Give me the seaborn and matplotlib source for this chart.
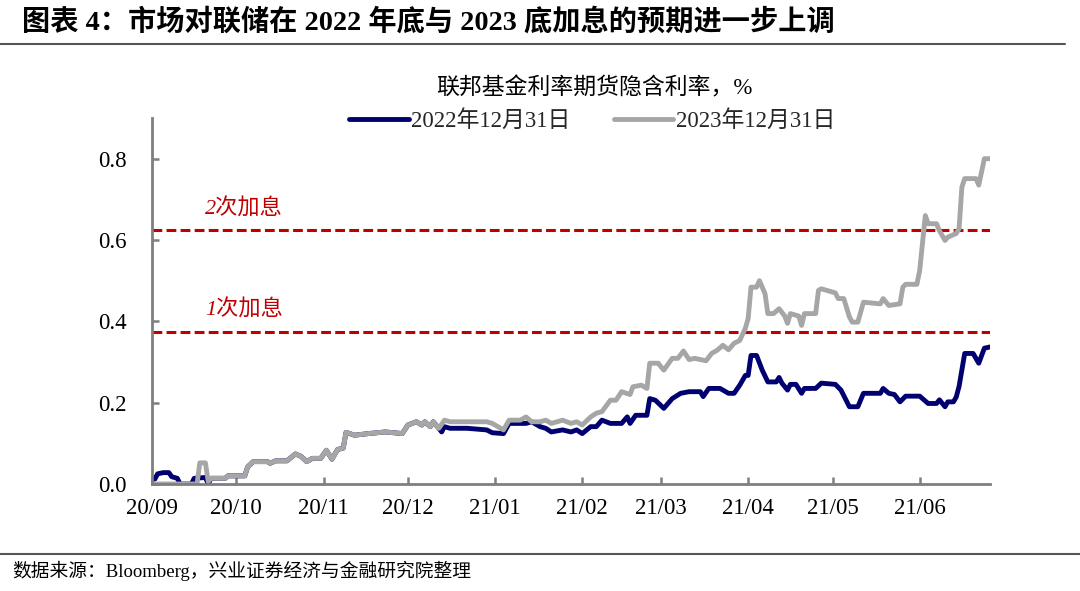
import matplotlib
matplotlib.use("Agg")
import numpy as np
import pandas as pd
import seaborn as sns
import matplotlib.pyplot as plt
from matplotlib.lines import Line2D

# ---------------- data ----------------
series_names = ["2022年12月31日", "2023年12月31日"]

gray_dates = [
    "2020-09-01", "2020-09-17", "2020-09-18", "2020-09-20", "2020-09-21", "2020-09-22", "2020-09-27",
    "2020-09-28", "2020-10-04", "2020-10-05", "2020-10-07", "2020-10-12", "2020-10-13", "2020-10-15",
    "2020-10-19", "2020-10-22", "2020-10-24", "2020-10-26", "2020-10-28", "2020-10-31", "2020-11-02",
    "2020-11-04", "2020-11-06", "2020-11-08", "2020-11-09", "2020-11-12", "2020-11-17", "2020-11-23",
    "2020-11-29", "2020-12-01", "2020-12-04", "2020-12-06", "2020-12-07", "2020-12-09", "2020-12-10",
    "2020-12-12", "2020-12-14", "2020-12-16", "2020-12-29", "2020-12-31", "2021-01-04", "2021-01-06",
    "2021-01-10", "2021-01-12", "2021-01-14", "2021-01-17", "2021-01-19", "2021-01-21", "2021-01-25",
    "2021-01-28", "2021-01-30", "2021-02-01", "2021-02-04", "2021-02-06", "2021-02-08", "2021-02-11",
    "2021-02-13", "2021-02-15", "2021-02-18", "2021-02-19", "2021-02-22", "2021-02-24", "2021-02-25",
    "2021-02-28", "2021-03-02", "2021-03-05", "2021-03-07", "2021-03-09", "2021-03-11", "2021-03-13",
    "2021-03-15", "2021-03-17", "2021-03-19", "2021-03-21", "2021-03-23", "2021-03-25", "2021-03-27",
    "2021-03-29", "2021-03-31", "2021-04-01", "2021-04-02", "2021-04-04", "2021-04-05", "2021-04-07",
    "2021-04-08", "2021-04-10", "2021-04-12", "2021-04-14", "2021-04-15", "2021-04-16", "2021-04-19",
    "2021-04-20", "2021-04-21", "2021-04-25", "2021-04-26", "2021-04-27", "2021-05-02", "2021-05-03",
    "2021-05-05", "2021-05-07", "2021-05-08", "2021-05-10", "2021-05-12", "2021-05-18", "2021-05-19",
    "2021-05-21", "2021-05-25", "2021-05-26", "2021-05-27", "2021-05-31", "2021-06-01", "2021-06-03",
    "2021-06-04", "2021-06-07", "2021-06-08", "2021-06-10", "2021-06-11", "2021-06-14", "2021-06-15",
    "2021-06-16", "2021-06-17", "2021-06-21", "2021-06-22", "2021-06-24", "2021-06-26",
]
gray_values = [
    0.0, 0.0, 0.052, 0.052, 0.006, 0.014, 0.014,
    0.02, 0.02, 0.042, 0.055, 0.055, 0.051, 0.057,
    0.057, 0.074, 0.068, 0.055, 0.063, 0.063, 0.083,
    0.061, 0.085, 0.088, 0.127, 0.12, 0.124, 0.128,
    0.124, 0.145, 0.153, 0.145, 0.153, 0.141, 0.153,
    0.137, 0.157, 0.153, 0.153, 0.149, 0.133, 0.157,
    0.157, 0.165, 0.153, 0.153, 0.157, 0.149, 0.157,
    0.149, 0.153, 0.145, 0.165, 0.174, 0.178, 0.206,
    0.206, 0.227, 0.22, 0.239, 0.243, 0.235, 0.297,
    0.297, 0.28, 0.309, 0.309, 0.327, 0.306, 0.309,
    0.306, 0.303, 0.321, 0.329, 0.341, 0.33, 0.346,
    0.353, 0.383, 0.407, 0.484, 0.484, 0.5, 0.468,
    0.419, 0.419, 0.431, 0.413, 0.395, 0.419, 0.413,
    0.39, 0.419, 0.419, 0.476, 0.48, 0.47, 0.456,
    0.456, 0.411, 0.398, 0.398, 0.447, 0.443, 0.456,
    0.439, 0.443, 0.484, 0.491, 0.491, 0.525, 0.66,
    0.64, 0.64, 0.623, 0.599, 0.607, 0.616, 0.628,
    0.73, 0.751, 0.751, 0.735, 0.8, 0.8,
]

navy_early_dates = ["2020-09-01", "2020-09-02", "2020-09-03", "2020-09-05", "2020-09-07", "2020-09-08",
                    "2020-09-10", "2020-09-11", "2020-09-15", "2020-09-16", "2020-09-20", "2020-09-21"]
navy_early_values = [0.012, 0.012, 0.025, 0.028, 0.028, 0.018,
                     0.014, 0.0, 0.0, 0.014, 0.016, 0.0]

navy_late_dates = [
    "2020-12-13", "2020-12-14", "2020-12-16", "2020-12-22", "2020-12-29", "2020-12-31", "2021-01-04",
    "2021-01-06", "2021-01-12", "2021-01-14", "2021-01-17", "2021-01-19", "2021-01-21", "2021-01-25",
    "2021-01-28", "2021-01-30", "2021-02-01", "2021-02-04", "2021-02-06", "2021-02-08", "2021-02-11",
    "2021-02-15", "2021-02-17", "2021-02-18", "2021-02-20", "2021-02-24", "2021-02-25", "2021-02-27",
    "2021-03-02", "2021-03-05", "2021-03-08", "2021-03-11", "2021-03-15", "2021-03-16", "2021-03-18",
    "2021-03-22", "2021-03-25", "2021-03-27", "2021-03-29", "2021-03-31", "2021-04-01", "2021-04-02",
    "2021-04-04", "2021-04-06", "2021-04-08", "2021-04-11", "2021-04-12", "2021-04-13", "2021-04-15",
    "2021-04-16", "2021-04-18", "2021-04-20", "2021-04-21", "2021-04-25", "2021-04-27", "2021-05-02",
    "2021-05-04", "2021-05-07", "2021-05-10", "2021-05-12", "2021-05-18", "2021-05-19", "2021-05-21",
    "2021-05-23", "2021-05-25", "2021-05-27", "2021-06-01", "2021-06-04", "2021-06-07", "2021-06-08",
    "2021-06-10", "2021-06-11", "2021-06-13", "2021-06-14", "2021-06-15", "2021-06-17", "2021-06-20",
    "2021-06-22", "2021-06-24", "2021-06-26",
]
navy_late_values = [
    0.128, 0.141, 0.137, 0.137, 0.133, 0.126, 0.124,
    0.149, 0.149, 0.153, 0.141, 0.137, 0.128, 0.133,
    0.128, 0.133, 0.124, 0.141, 0.141, 0.157, 0.149,
    0.149, 0.165, 0.149, 0.169, 0.169, 0.21, 0.206,
    0.186, 0.21, 0.223, 0.227, 0.227, 0.215, 0.235,
    0.235, 0.223, 0.223, 0.243, 0.267, 0.267, 0.316,
    0.316, 0.28, 0.251, 0.251, 0.262, 0.248, 0.231,
    0.245, 0.245, 0.223, 0.235, 0.235, 0.248, 0.245,
    0.231, 0.19, 0.19, 0.223, 0.223, 0.235, 0.223,
    0.22, 0.202, 0.216, 0.216, 0.198, 0.198, 0.207,
    0.19, 0.202, 0.202, 0.214, 0.24, 0.321, 0.321,
    0.297, 0.334, 0.337,
]

hike_levels = [0.375, 0.625]
hike_labels = ["1次加息", "2次加息"]
tick_dates = ["2020-09-01", "2020-10-01", "2020-11-01", "2020-12-01", "2021-01-01",
              "2021-02-01", "2021-03-01", "2021-04-01", "2021-05-01", "2021-06-01"]
tick_labels = ["20/09", "20/10", "20/11", "20/12", "21/01",
               "21/02", "21/03", "21/04", "21/05", "21/06"]

# ---------------- frame ----------------
gray_df = pd.DataFrame({"date": pd.to_datetime(gray_dates), "value": gray_values})
# between late Sep and mid Dec the 2022 series runs underneath the 2023 series
mid = gray_df[(gray_df["date"] > pd.Timestamp(navy_early_dates[-1])) &
              (gray_df["date"] < pd.Timestamp(navy_late_dates[0]))]
navy_df = pd.concat([
    pd.DataFrame({"date": pd.to_datetime(navy_early_dates), "value": navy_early_values}),
    mid,
    pd.DataFrame({"date": pd.to_datetime(navy_late_dates), "value": navy_late_values}),
], ignore_index=True)
navy_df["series"] = series_names[0]
gray_df["series"] = series_names[1]
df = pd.concat([navy_df, gray_df], ignore_index=True)

# ---------------- style ----------------
sns.set_theme(style="white")
plt.rcParams["font.family"] = ["Liberation Serif", "Noto Sans CJK SC"]
plt.rcParams["axes.unicode_minus"] = False

NAVY = "#000070"
GRAY = "#A6A6A6"
RED = "#C00000"
SPINE = "#7F7F7F"

fig = plt.figure(figsize=(10.8, 5.91), dpi=100)
ax = fig.add_axes([152 / 1080, 1 - 484 / 591, (990 - 152) / 1080, (484 - 118) / 591])

sns.lineplot(data=df, x="date", y="value", hue="series", hue_order=series_names,
             palette={series_names[0]: NAVY, series_names[1]: GRAY},
             linewidth=3.5, ax=ax, legend=False, estimator=None, sort=True)

for lvl in hike_levels:
    ax.axhline(lvl, color=RED, lw=2.2, ls=(0, (3.2, 1.4)), zorder=1)
ax.text(pd.Timestamp("2020-09-20"), 0.427, hike_labels[0], color=RED, fontsize=16,
        style="italic", va="center", ha="left")
ax.text(pd.Timestamp("2020-09-20"), 0.677, hike_labels[1], color=RED, fontsize=16,
        style="italic", va="center", ha="left")

ax.set_xlim(pd.Timestamp("2020-09-01"), pd.Timestamp("2021-06-26"))
ax.set_ylim(0, 0.9)
ax.set_yticks([0.0, 0.2, 0.4, 0.6, 0.8])
ax.set_yticklabels([f"{v:.1f}" for v in [0.0, 0.2, 0.4, 0.6, 0.8]])
ax.set_xticks(pd.to_datetime(tick_dates))
ax.set_xticklabels(tick_labels)
ax.set_xlabel("")
ax.set_ylabel("")

for s in ["top", "right"]:
    ax.spines[s].set_visible(False)
for s in ["left", "bottom"]:
    ax.spines[s].set_color(SPINE)
    ax.spines[s].set_linewidth(2)
ax.tick_params(axis="both", direction="in", length=5, width=1.8, color=SPINE,
               labelsize=16.5, labelcolor="black")
ax.tick_params(axis="x", pad=10, bottom=True)
ax.tick_params(axis="y", pad=18, left=True)

# legend
handles = [Line2D([0], [0], color=NAVY, lw=3.5), Line2D([0], [0], color=GRAY, lw=3.5)]
fig.legend(handles, series_names, loc="center", bbox_to_anchor=(592 / 1080, 1 - 121 / 591),
           ncol=2, frameon=False, fontsize=16.5, handlelength=2.6, handletextpad=0.1,
           columnspacing=1.9)

fig.text(594 / 1080, 1 - 88 / 591, "联邦基金利率期货隐含利率，%", ha="center", va="center",
         fontsize=16.5, color="black")

# title and source
fig.text(22 / 1080, 1 - 22 / 591, "图表 4：市场对联储在 2022 年底与 2023 底加息的预期进一步上调",
         ha="left", va="center", fontsize=20.3, fontweight="bold", color="black")
fig.add_artist(Line2D([0, 1065 / 1080], [1 - 44 / 591, 1 - 44 / 591], color="#555555", lw=1.5,
                      transform=fig.transFigure))
fig.add_artist(Line2D([0, 1], [1 - 554 / 591, 1 - 554 / 591], color="#555555", lw=1.5,
                      transform=fig.transFigure))
fig.text(12 / 1080, 1 - 571 / 591, "数据来源：Bloomberg，兴业证券经济与金融研究院整理",
         ha="left", va="center", fontsize=13.5, color="black")

fig.savefig("out.png", dpi=100)
